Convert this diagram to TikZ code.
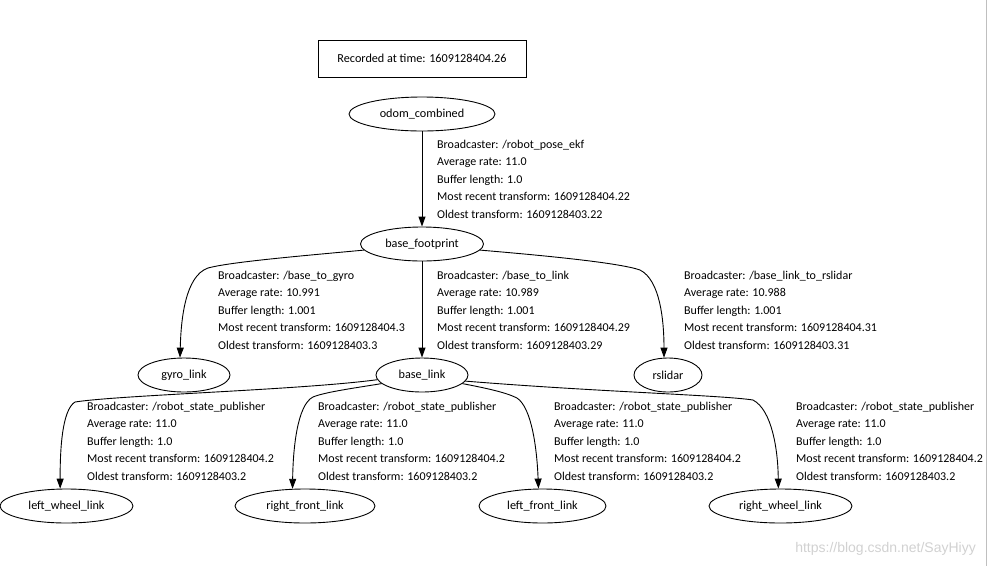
\documentclass[tikz,border=0pt]{standalone}
\usepackage{fontspec}
\setmainfont{Carlito}
\newfontfamily\wmfont{Liberation Sans}
\usetikzlibrary{shapes.geometric,arrows.meta}
\tikzset{
  frame/.style={draw,line width=0.9pt,inner sep=0pt},
  tfnode/.style={draw,ellipse,line width=0.9pt,inner sep=0pt,minimum height=34pt,font=\fontsize{12.2}{14}\selectfont},
  edge/.style={line width=0.9pt,-{Triangle[length=10pt,width=7pt]}},
  elabel/.style={anchor=west,inner sep=0pt,align=left,font=\fontsize{12}{17.5}\selectfont}
}
\begin{document}
\begin{tikzpicture}[x=1pt,y=-1pt]
\useasboundingbox (0,0) rectangle (988,566);
\draw[line width=1pt,color=black!25] (986,0) -- (986,566);
\node[frame,minimum width=208pt,minimum height=37pt,font=\fontsize{12.2}{14}\selectfont] (rec) at (422,58.5) {Recorded at time: 1609128404.26};
\node[tfnode,minimum width=146pt] (odom) at (422,114) {odom\_combined};
\node[tfnode,minimum width=123pt] (bf) at (422,244) {base\_footprint};
\node[tfnode,minimum width=92pt] (gyro) at (184,375) {gyro\_link};
\node[tfnode,minimum width=92pt] (bl) at (422,375) {base\_link};
\node[tfnode,minimum width=68pt] (rs) at (668,375) {rslidar};
\node[tfnode,minimum width=133pt] (lw) at (66.5,506) {left\_wheel\_link};
\node[tfnode,minimum width=140pt] (rf) at (305,506) {right\_front\_link};
\node[tfnode,minimum width=127pt] (lf) at (542.5,506) {left\_front\_link};
\node[tfnode,minimum width=143pt] (rw) at (780.5,506) {right\_wheel\_link};

\draw[edge] (odom.south) -- (bf.north);
\draw[edge] (bf.south) -- (bl.north);
\draw[edge] (bf.186) .. controls (300,256) and (230,262) .. (208,268) .. controls (185,276) and (181,320) .. (gyro.103);
\draw[edge] (bf.354) .. controls (550,256) and (620,263) .. (640,270) .. controls (660,280) and (664,320) .. (rs.103);
\draw[edge] (bl.186) .. controls (300,390) and (120,395) .. (75,402) .. controls (62,410) and (60,450) .. (lw.110);
\draw[edge] (bl.192) .. controls (355,388) and (325,392) .. (313,397) .. controls (297,405) and (293,450) .. (rf.126);
\draw[edge] (bl.348) .. controls (485,388) and (505,392) .. (517,398) .. controls (532,408) and (537,450) .. (lf.103);
\draw[edge] (bl.352) .. controls (600,392) and (720,395) .. (753,400) .. controls (772,410) and (778,450) .. (rw.97);

\node[elabel] (l1) at (437,179) {Broadcaster: /robot\_pose\_ekf\\Average rate: 11.0\\Buffer length: 1.0\\Most recent transform: 1609128404.22\\Oldest transform: 1609128403.22};
\node[elabel] (l2) at (218,310) {Broadcaster: /base\_to\_gyro\\Average rate: 10.991\\Buffer length: 1.001\\Most recent transform: 1609128404.3\\Oldest transform: 1609128403.3};
\node[elabel] (l3) at (437,310) {Broadcaster: /base\_to\_link\\Average rate: 10.989\\Buffer length: 1.001\\Most recent transform: 1609128404.29\\Oldest transform: 1609128403.29};
\node[elabel] (l4) at (684,310) {Broadcaster: /base\_link\_to\_rslidar\\Average rate: 10.988\\Buffer length: 1.001\\Most recent transform: 1609128404.31\\Oldest transform: 1609128403.31};
\node[elabel] (l5) at (87,441) {Broadcaster: /robot\_state\_publisher\\Average rate: 11.0\\Buffer length: 1.0\\Most recent transform: 1609128404.2\\Oldest transform: 1609128403.2};
\node[elabel] (l6) at (318,441) {Broadcaster: /robot\_state\_publisher\\Average rate: 11.0\\Buffer length: 1.0\\Most recent transform: 1609128404.2\\Oldest transform: 1609128403.2};
\node[elabel] (l7) at (554,441) {Broadcaster: /robot\_state\_publisher\\Average rate: 11.0\\Buffer length: 1.0\\Most recent transform: 1609128404.2\\Oldest transform: 1609128403.2};
\node[elabel] (l8) at (796,441) {Broadcaster: /robot\_state\_publisher\\Average rate: 11.0\\Buffer length: 1.0\\Most recent transform: 1609128404.2\\Oldest transform: 1609128403.2};

\node[anchor=east,inner sep=0pt,text=black!18,font=\wmfont\fontsize{14}{16}\selectfont] (wm) at (976,549) {https://blog.csdn.net/SayHiyy};
\end{tikzpicture}
\end{document}
